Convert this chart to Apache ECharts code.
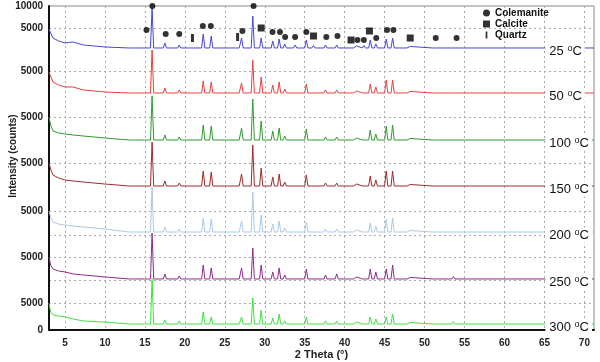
<!DOCTYPE html>
<html>
<head>
<meta charset="utf-8">
<script src="https://cdn.jsdelivr.net/npm/echarts@6/dist/echarts.min.js"></script>
<style>
html, body { margin: 0; padding: 0; background: #fff; }
#chart { width: 600px; height: 362px; }
</style>
</head>
<body>
<div id="chart"></div>
<script>
(function(){

var temps = ['25', '50', '100', '150', '200', '250', '300'];
var colors = ['#4545dd', '#e8403f', '#2e9a2e', '#9a2b2b', '#a9c9ea', '#8e2a8e', '#3fe03f'];
// stack offset of each pattern and its flat background level (counts)
var offsets = [50926, 42963, 34444, 25926, 17037, 8519, 0];
var bases = [1300, 930, 740, 740, 1110, 930, 1110];

// low-angle background rise above base
var bgX = [3, 3.2, 3.5, 4.2, 5, 6, 7.3, 10, 13];
var bg25 = [3520, 2780, 1850, 1300, 930, 1110, 560, 185, 0];
var bg50 = [3890, 3150, 2040, 1480, 1110, 1110, 560, 185, 0];
var bg100 = [4260, 2780, 1670, 1300, 1110, 930, 740, 370, 0];
var bg150 = [4260, 3150, 2040, 1480, 1110, 930, 740, 370, 0];
var bg200 = [3890, 2780, 1850, 1480, 1300, 1110, 930, 560, 0];
var bg250 = [4070, 2590, 1850, 1480, 1300, 930, 740, 370, 0];
var bg300 = [3890, 2220, 1670, 1480, 1300, 930, 560, 370, 0];

// peak positions (2 theta) and heights per temperature (counts)
var peaks = [13.5, 15.2, 15.9, 17.5, 19.3, 20.9, 22.3, 23.3, 26.6, 27.1, 28.5, 29.55, 31.0, 31.8, 32.5, 33.8,
  35.2, 36.1, 37.6, 39.0, 40.9, 41.5, 42.4, 43.2, 43.9, 45.2, 46.0, 47.6, 48.2, 51.2, 53.6, 58.9];
var h25 = [90, 370, 7400, 930, 560, 280, 2590, 2220, 370, 1850, 5920, 1850, 1300, 1670, 740, 560,
  1480, 460, 560, 560, 370, 370, 460, 1480, 740, 1670, 1850, 370, 280, 370, 370, 185];
var h50 = [90, 370, 7960, 930, 560, 280, 2220, 2040, 370, 1850, 6100, 2960, 1480, 2040, 740, 370,
  1670, 370, 560, 560, 370, 370, 370, 1670, 1110, 2400, 2400, 370, 280, 370, 370, 185];
var h100 = [90, 370, 8140, 930, 560, 280, 2780, 2590, 370, 2220, 7590, 3520, 1670, 2220, 740, 370,
  2040, 370, 560, 560, 370, 370, 370, 1850, 1110, 2590, 2780, 370, 280, 370, 370, 185];
var h150 = [90, 370, 8140, 930, 560, 280, 2780, 2590, 370, 2220, 7590, 3330, 1670, 2220, 740, 370,
  2040, 370, 560, 560, 370, 370, 370, 1850, 1110, 2780, 2780, 370, 280, 370, 370, 185];
var h200 = [90, 370, 8330, 930, 560, 280, 2590, 2400, 370, 2040, 7400, 3150, 1480, 2040, 740, 370,
  1850, 370, 560, 560, 370, 370, 370, 1670, 1110, 2400, 2590, 370, 280, 370, 370, 185];
var h250 = [90, 370, 8510, 930, 560, 280, 2590, 2040, 370, 2040, 5740, 2590, 1300, 2040, 740, 370,
  1850, 370, 740, 930, 370, 370, 370, 1850, 1300, 1850, 2590, 370, 280, 370, 460, 185];
var h300 = [185, 370, 8330, 740, 560, 280, 2220, 1300, 370, 1300, 4810, 2590, 1110, 1850, 560, 370,
  1300, 370, 560, 560, 370, 370, 370, 1300, 930, 1300, 1850, 370, 280, 370, 460, 185];

// phase markers above the 25 C pattern
var colemanite = [[15.2, 55556], [15.94, 60000], [17.6, 54815], [19.3, 54815], [22.25, 56296], [23.25, 56296],
  [27.2, 55370], [28.6, 60000], [30.97, 55185], [31.9, 55185], [32.55, 54259], [33.8, 54259], [35.2, 55185],
  [37.7, 54259], [39.1, 54444], [41.6, 53704], [42.4, 53704], [43.95, 54074], [45.3, 55556], [46.1, 55556],
  [51.4, 54074], [54.0, 54074]];
var calcite = [[29.55, 55926], [36.1, 54444], [40.8, 53704], [43.1, 55370], [48.2, 54074]];
var quartz = [[20.95, 54074], [26.6, 54259]];

var xTicks = [5, 10, 15, 20, 25, 30, 35, 40, 45, 50, 55, 60, 65, 70];
var yLabelValues = [0, 5000, 13519, 22037, 30926, 39444, 47963, 55926, 60000];
var yLabelText = ['0', '5000', '5000', '5000', '5000', '5000', '5000', '5000', '10000'];
var yGridValues = [5000, 9259, 13519, 17593, 22037, 30926, 39444, 47963, 55926];

var bgs = [bg25, bg50, bg100, bg150, bg200, bg250, bg300];
var heights = [h25, h50, h100, h150, h200, h250, h300];

function buildTrace(i) {
  var base = offsets[i] + bases[i];
  var pts = [];
  bgX.forEach(function(x, k) { pts.push([x, base + bgs[i][k]]); });
  peaks.forEach(function(p, k) {
    pts.push([p - 0.2, base], [p, base + heights[i][k]], [p + 0.2, base]);
  });
  pts.push([71.2, base]);
  return pts;
}

var font = 'Liberation Sans, Arial, sans-serif';
var series = temps.map(function(t, i) {
  return {
    name: t + ' C',
    type: 'line',
    data: buildTrace(i),
    symbol: 'none',
    lineStyle: { width: 1, color: colors[i] },
    itemStyle: { color: colors[i] },
    z: 3,
    markPoint: {
      silent: true,
      symbol: 'rect',
      symbolSize: 0.1,
      itemStyle: { color: 'rgba(0,0,0,0)' },
      data: [{ coord: [65.1, offsets[i] + bases[i]] }],
      label: {
        show: true,
        position: 'right',
        distance: 0,
        offset: [0, 3],
        backgroundColor: '#fff',
        padding: [1, 3, 0, 4],
        formatter: '{n|' + t + ' }{s|o}{n|C}',
        rich: {
          n: { fontSize: 13, lineHeight: 14, color: '#111', fontFamily: font },
          s: { fontSize: 9, lineHeight: 9, color: '#111', verticalAlign: 'top', padding: [0, 0, 4, 0], fontFamily: font }
        }
      }
    }
  };
});

series.push(
  { name: 'Colemanite', type: 'scatter', data: colemanite, symbol: 'circle', symbolSize: 6,
    itemStyle: { color: '#000' }, z: 5, clip: false },
  { name: 'Calcite', type: 'scatter', data: calcite, symbol: 'rect', symbolSize: 7,
    itemStyle: { color: '#000' }, z: 5, clip: false },
  { name: 'Quartz', type: 'scatter', data: quartz, symbol: 'rect', symbolSize: [3, 8],
    itemStyle: { color: '#000' }, z: 5, clip: false }
);

var chart = echarts.init(document.getElementById('chart'));
chart.setOption({
  animation: false,
  textStyle: { fontFamily: font },
  grid: {
    left: 49, right: 6, top: 6, bottom: 32, show: true, borderColor: '#888', borderWidth: 1,
    containLabel: false, outerBoundsMode: 'none'
  },
  legend: {
    orient: 'vertical', left: 483, top: 8, itemWidth: 7, itemHeight: 7, itemGap: 1,
    selectedMode: false, padding: 0,
    textStyle: { fontSize: 10, fontWeight: 'bold', color: '#111' },
    data: [
      { name: 'Colemanite', icon: 'circle' },
      { name: 'Calcite', icon: 'rect' },
      { name: 'Quartz', icon: 'path://M0,0M7,8M2.5,0L4.5,0L4.5,8L2.5,8Z' }
    ]
  },
  xAxis: {
    type: 'value', min: 3, max: 71.2,
    name: '2 Theta (°)', nameLocation: 'middle', nameGap: 19, nameMoveOverlap: false,
    nameTextStyle: { fontSize: 11, fontWeight: 'bold', color: '#222' },
    axisLine: { show: true, onZero: false, lineStyle: { color: '#111', width: 2 } },
    axisTick: { show: false, customValues: xTicks },
    axisLabel: { customValues: xTicks, fontSize: 10, fontWeight: 'bold', color: '#222', margin: 8 },
    splitLine: { show: true, lineStyle: { type: [2, 3], color: '#aaa', width: 1 } }
  },
  yAxis: {
    type: 'value', min: 0, max: 60000,
    name: 'Intensity (counts)', nameLocation: 'middle', nameGap: 31, nameMoveOverlap: false,
    nameTextStyle: { fontSize: 10, fontWeight: 'bold', color: '#222', padding: [0, 0, 0, 24] },
    axisLine: { show: true, lineStyle: { color: '#111', width: 2 } },
    axisTick: { show: false, customValues: yGridValues },
    axisLabel: {
      customValues: yLabelValues, fontSize: 10, fontWeight: 'bold', color: '#222', margin: 6,
      formatter: function(v) {
        var best = 0;
        yLabelValues.forEach(function(y, k) {
          if (Math.abs(y - v) < Math.abs(yLabelValues[best] - v)) best = k;
        });
        return yLabelText[best];
      }
    },
    splitLine: { show: true, lineStyle: { type: [2, 3], color: '#aaa', width: 1 } }
  },
  series: series
});

})();
</script>
</body>
</html>
